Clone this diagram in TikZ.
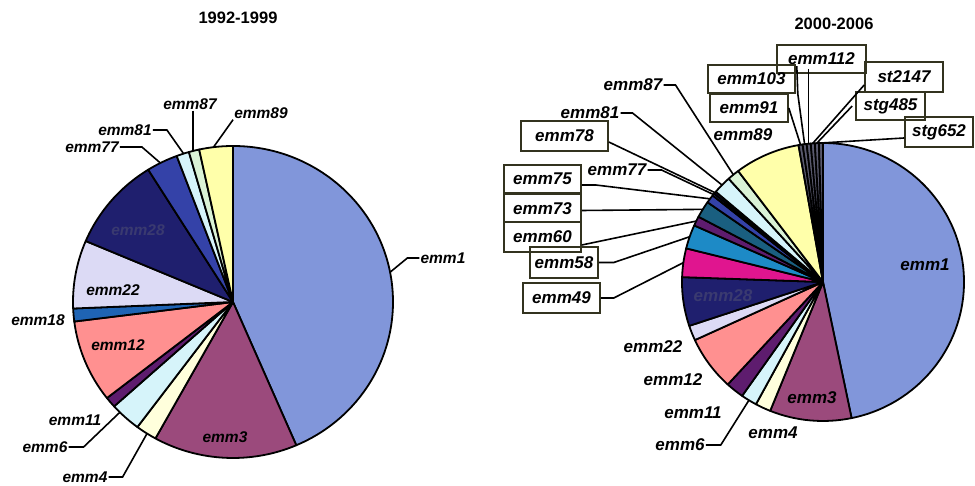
\documentclass[tikz,border=0pt]{standalone}
\usepackage{fontspec}
\setmainfont{Liberation Sans}
\usetikzlibrary{calc}
\definecolor{periwinkle}{HTML}{8196DA}
\definecolor{plum}{HTML}{9B4A7C}
\definecolor{cream}{HTML}{FFFFDC}
\definecolor{icecyan}{HTML}{D6F4FA}
\definecolor{grape}{HTML}{5E1C6E}
\definecolor{salmon}{HTML}{FF9090}
\definecolor{steelblue}{HTML}{1F64B4}
\definecolor{lavender}{HTML}{DCDAF5}
\definecolor{darknavy}{HTML}{1F1F6E}
\definecolor{royalblue}{HTML}{3442A8}
\definecolor{mintgreen}{HTML}{DAF2D6}
\definecolor{paleyellow}{HTML}{FFFFAA}
\definecolor{magentapink}{HTML}{E0158F}
\definecolor{ceruleanblue}{HTML}{1D8AC6}
\definecolor{darkteal}{HTML}{1A5F80}
\definecolor{darkslate}{HTML}{5A5A6E}
\definecolor{boxolive}{HTML}{33331F}
\definecolor{navytext}{HTML}{3A3A70}

\begin{document}
\begin{tikzpicture}[x=1pt, y=1pt]
        \tikzstyle{wedge}=[draw=black, line width=1.8pt, line join=round]
        \tikzstyle{lead}=[line width=1.6pt, line join=miter]
        \tikzstyle{lbl}=[font=\fontsize{15.5}{16}\selectfont\bfseries\itshape, inner sep=1pt]
        \tikzstyle{lblr}=[font=\fontsize{17}{18}\selectfont\bfseries\itshape, inner sep=1pt]
        \tikzstyle{tag}=[lblr, draw=boxolive, line width=1.6pt]
        \tikzstyle{ttl}=[font=\fontsize{16.5}{18}\selectfont\bfseries]

        \useasboundingbox (0,0) rectangle (975,486);

        % Left pie (1992-1999)
        \coordinate (L) at (233,184);
        \foreach \a/\b/\c in {90/-66.7/periwinkle, -66.7/-119/plum, -119/-126.7/cream,
            -126.7/-138/icecyan, -138/-142/grape, -142/-172.8/salmon, -172.8/-177.6/steelblue,
            -177.6/-203/lavender, -203/-238/darknavy, -238/-249.4/royalblue,
            -249.4/-254/icecyan, -254/-257.8/mintgreen, -257.8/-270/paleyellow}
            \draw[wedge, fill=\c] (L) -- ($(L)+(\a:160 and 156)$) arc[start angle=\a, end angle=\b, x radius=160, y radius=156] -- cycle;

        % Leader ends on the left rim
        \coordinate (q1) at ($(L)+(11:160 and 156)$);
        \coordinate (q89) at ($(L)+(97:160 and 156)$);
        \coordinate (q87) at ($(L)+(104.5:160 and 156)$);
        \coordinate (q81) at ($(L)+(108:160 and 156)$);
        \coordinate (q77) at ($(L)+(117:160 and 156)$);
        \coordinate (q6) at ($(L)+(-135:160 and 156)$);
        \coordinate (q4) at ($(L)+(-122.5:160 and 156)$);

        \node[ttl] (title1) at (238,468) {1992-1999};

        \node[lbl] (lemm1) at (443,228) {emm1};
        \node[lbl] (lemm89) at (261,373) {emm89};
        \node[lbl] (lemm87) at (190,382) {emm87};
        \node[lbl] (lemm81) at (125,356) {emm81};
        \node[lbl] (lemm77) at (92,339) {emm77};
        \node[lbl] (lemm18) at (38,166) {emm18};
        \node[lbl] (lemm11) at (75,66) {emm11};
        \node[lbl] (lemm6) at (45,39) {emm6};
        \node[lbl] (lemm4) at (85,9) {emm4};
        \node[lbl, text=navytext] (lemm28) at (138,256) {emm28};
        \node[lbl] (lemm22) at (113,196) {emm22};
        \node[lbl] (lemm12) at (118,141) {emm12};
        \node[lbl] (lemm3) at (225,49) {emm3};

        \draw[lead] (lemm1.west) -- ++(-12,0) -- (q1);
        \draw[lead] (lemm89.south west) -- (q89);
        \draw[lead] (q87 |- lemm87.south) -- (q87);
        \draw[lead] (lemm81.east) -- ++(14,0) -- (q81);
        \draw[lead] (lemm77.east) -- ++(22,0) -- (q77);
        \draw[lead] (lemm6.east) -- ++(15,0) -- (q6);
        \draw[lead] (lemm4.east) -- ++(14,0) -- (q4);

        % Right pie (2000-2006)
        \coordinate (R) at (823,204);
        \foreach \a/\b/\c in {90/-78.3/periwinkle, -78.3/-112/plum, -112/-118.4/cream,
            -118.4/-125/icecyan, -125/-132.5/grape, -132.5/-155.3/salmon, -155.3/-161.6/lavender,
            -161.6/-182/darknavy, -182/-194/magentapink, -194/-204/ceruleanblue, -204/-208/grape,
            -208/-215/darkteal, -215/-218.5/royalblue, -218.5/-219.5/royalblue, -219.5/-220.5/darknavy,
            -220.5/-228/icecyan, -228/-233/mintgreen, -233/-260/paleyellow,
            -260/-261.67/darkslate, -261.67/-263.33/darkslate, -263.33/-265/darkslate,
            -265/-266.67/darkslate, -266.67/-268.33/darkslate, -268.33/-270/darkslate}
            \draw[wedge, fill=\c] (R) -- ($(R)+(\a:141 and 139)$) arc[start angle=\a, end angle=\b, x radius=141, y radius=139] -- cycle;

        % Leader ends on the right rim
        \coordinate (r6) at ($(R)+(-121.7:141 and 139)$);
        \coordinate (r49) at ($(R)+(172:141 and 139)$);
        \coordinate (r58) at ($(R)+(161:141 and 139)$);
        \coordinate (r60) at ($(R)+(154:141 and 139)$);
        \coordinate (r73) at ($(R)+(148.5:141 and 139)$);
        \coordinate (r75) at ($(R)+(143.25:141 and 139)$);
        \coordinate (r77) at ($(R)+(141:141 and 139)$);
        \coordinate (r78) at ($(R)+(140:141 and 139)$);
        \coordinate (r81) at ($(R)+(135.75:141 and 139)$);
        \coordinate (r87) at ($(R)+(129.5:141 and 139)$);
        \coordinate (r91) at ($(R)+(99.17:141 and 139)$);
        \coordinate (r103) at ($(R)+(97.5:141 and 139)$);
        \coordinate (r112) at ($(R)+(95.83:141 and 139)$);
        \coordinate (r2147) at ($(R)+(94.17:141 and 139)$);
        \coordinate (r485) at ($(R)+(92.5:141 and 139)$);
        \coordinate (r652) at ($(R)+(90.83:141 and 139)$);

        \node[ttl] (title2) at (834,462) {2000-2006};

        \node[lblr] (remm1) at (925,221) {emm1};
        \node[lblr, text=navytext] (remm28) at (723,190) {emm28};
        \node[lblr] (remm3) at (812,88) {emm3};
        \node[lblr] (remm22) at (653,139) {emm22};
        \node[lblr] (remm12) at (673,106) {emm12};
        \node[lblr] (remm11) at (693,73) {emm11};
        \node[lblr] (remm6) at (680,41) {emm6};
        \node[lblr] (remm4) at (773,53) {emm4};
        \node[lblr] (remm89) at (743,351) {emm89};
        \node[lblr] (remm87) at (633,401) {emm87};
        \node[lblr] (remm81) at (590,373) {emm81};
        \node[lblr] (remm77) at (617,316) {emm77};

        % Boxed labels
        \node[tag, minimum width=87, minimum height=30] (remm78) at (564.5,350) {emm78};
        \node[tag, minimum width=77, minimum height=28] (remm75) at (542.5,307) {emm75};
        \node[tag, minimum width=77, minimum height=28] (remm73) at (542.5,277.5) {emm73};
        \node[tag, minimum width=77, minimum height=30] (remm60) at (542.5,249) {emm60};
        \node[tag, minimum width=68, minimum height=31] (remm58) at (564,223.5) {emm58};
        \node[tag, minimum width=77, minimum height=30] (remm49) at (561.5,188) {emm49};
        \node[tag, minimum width=89, minimum height=28] (remm112) at (821.5,427) {emm112};
        \node[tag, minimum width=87, minimum height=28] (remm103) at (751.5,407) {emm103};
        \node[tag, minimum width=78, minimum height=28] (remm91) at (749,378) {emm91};
        \node[tag, minimum width=78, minimum height=30] (rst2147) at (904,409) {st2147};
        \node[tag, minimum width=69, minimum height=28] (rstg485) at (890.5,380) {stg485};
        \node[tag, minimum width=68, minimum height=30] (rstg652) at (939,354) {stg652};

        \draw[lead] (remm6.east) -- ++(15,0) -- (r6);
        \draw[lead] (remm49.east) -- ++(13,0) -- (r49);
        \draw[lead] (remm58.east) -- ++(15,0) -- (r58);
        \draw[lead] ([yshift=-8pt]remm60.east) -- (r60);
        \draw[lead] ([yshift=-2pt]remm73.east) -- (r73);
        \draw[lead] ([yshift=-6pt]remm75.east) -- ++(14,0) -- (r75);
        \draw[lead] (remm77.east) -- ++(14,0) -- (r77);
        \draw[lead] ([yshift=-6pt]remm78.east) -- (r78);
        \draw[lead] (remm81.east) -- ++(12,0) -- (r81);
        \draw[lead] (remm87.east) -- ++(12,0) -- (r87);
        \draw[lead] (remm91.east) -- (r91);
        \draw[lead] ([xshift=1pt,yshift=-2pt]remm103.north east) -- ([xshift=2pt]remm103.south east) -- (r103);
        \draw[lead] ($(r112 |- remm112.south)+(0,5)$) -- (r112);
        \draw[lead] ([yshift=-8pt]rst2147.west) -- (r2147);
        \draw[lead] ([xshift=-3pt]rstg485.west) -- (r485);
        \draw[lead] ([yshift=-6pt]rstg652.west) -- (r652);
\end{tikzpicture}
\end{document}
